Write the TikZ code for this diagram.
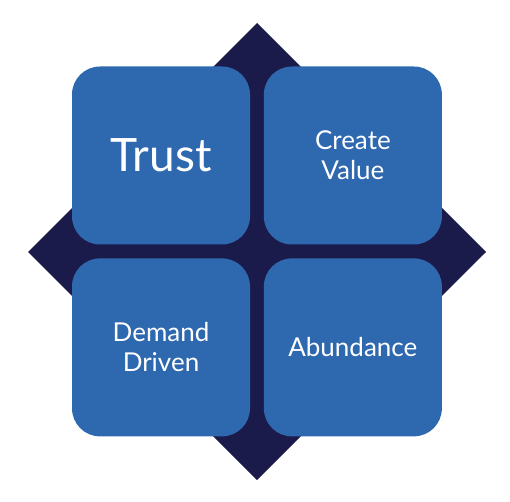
\documentclass[tikz,border=0pt]{standalone}
\usepackage{fontspec}
\setmainfont{Lato}
\usetikzlibrary{positioning}
\definecolor{navy}{HTML}{1B1B4B}
\definecolor{tileblue}{HTML}{2E68AF}

\begin{document}
\begin{tikzpicture}[x=0.75pt,y=-0.75pt,node distance=10pt,
    tile/.style={fill=tileblue,rounded corners=21pt,minimum size=133.5pt,
      inner sep=0pt,text=white,align=center,
      font=\fontsize{19.5}{22.5}\selectfont}]
  \useasboundingbox (0,0) rectangle (510,502);
  \fill[navy] (257,23) -- (486,252) -- (257,480) -- (28,252) -- cycle;
  \node[tile,font=\fontsize{34.5}{40}\selectfont] (trust) at (161,155.5) {Trust};
  \node[tile,right=of trust] (value) {Create\\Value};
  \node[tile,below=of trust] (demand) {Demand\\Driven};
  \node[tile,below=of value] (abundance) {Abundance};
\end{tikzpicture}
\end{document}
